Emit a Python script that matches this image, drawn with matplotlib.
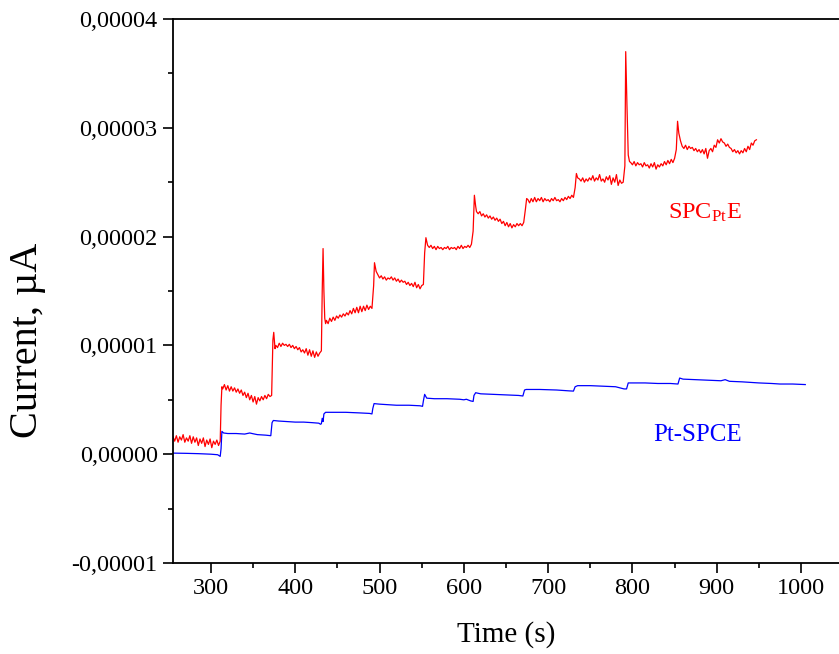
import matplotlib
matplotlib.use("Agg")
import matplotlib.pyplot as plt
from matplotlib.ticker import MultipleLocator, FuncFormatter
import numpy as np

plt.rcParams['font.family'] = ['Liberation Serif', 'DejaVu Serif']
plt.rcParams['mathtext.fontset'] = 'custom'
plt.rcParams['mathtext.rm'] = 'Liberation Serif'
plt.rcParams['mathtext.it'] = 'Liberation Serif:italic'

SCALE = 1e-6  # values below are in units of 1e-6

# ---- SPC_Pt E (red) : time (s) and current (x1e-6) ----
red_t0 = [255, 257, 259, 261, 263, 265, 267, 269, 271, 273, 275, 277, 279, 281, 283,
          285, 287, 289, 291, 293, 295, 297, 299, 301, 303, 305, 307, 309, 311]
red_v0 = [1.6, 1.2, 1.7, 1.1, 1.6, 1.3, 1.8, 1.1, 1.5, 1.2, 1.7, 1.0, 1.6, 1.1, 1.5,
          0.8, 1.4, 1.0, 1.5, 0.7, 1.3, 0.9, 1.4, 0.6, 1.2, 0.9, 1.3, 0.8, 1.2]
red_t1 = [312, 313, 314, 316, 318, 320, 322, 324, 326, 328, 330, 332, 334, 336, 338,
          340, 342, 344, 346, 348, 350, 352, 354, 356, 358, 360, 362, 364, 366, 368, 370]
red_v1 = [4.5, 6.2, 6.0, 6.4, 5.9, 6.3, 5.8, 6.2, 5.8, 6.1, 5.7, 6.0, 5.6, 5.9, 5.4,
          5.7, 5.2, 5.6, 5.0, 5.4, 4.8, 5.3, 4.6, 5.2, 4.9, 5.3, 5.0, 5.4, 5.1, 5.5, 5.3]
red_t2 = [372, 373.5, 374.5, 376, 377, 379, 381, 383, 385, 387, 389, 391, 393, 395, 397,
          399, 401, 403, 405, 407, 409, 411, 413, 415, 417, 419, 421, 423, 425, 427, 429]
red_v2 = [5.4, 10.5, 11.2, 9.7, 10.0, 9.8, 10.2, 9.9, 10.2, 10.0, 10.1, 9.9, 10.1, 9.8, 10.0,
          9.7, 9.9, 9.6, 9.8, 9.4, 9.6, 9.3, 9.7, 9.1, 9.6, 9.0, 9.5, 8.9, 9.4, 9.0, 9.3]
red_t3 = [431, 432, 433, 434, 435, 436, 437, 439, 441, 443, 445, 447, 449, 451, 453, 455,
          457, 459, 461, 463, 465, 467, 469, 471, 473, 475, 477, 479, 481, 483, 485, 487,
          489, 491]
red_v3 = [9.5, 15.0, 18.9, 15.0, 12.5, 12.0, 12.3, 12.0, 12.5, 12.2, 12.6, 12.3, 12.7, 12.5,
          12.8, 12.6, 12.9, 12.7, 13.0, 12.8, 13.2, 12.9, 13.4, 13.0, 13.5, 13.0, 13.6, 13.1,
          13.6, 13.2, 13.7, 13.3, 13.6, 13.4]
red_t4 = [493, 494, 496, 498, 500, 502, 504, 506, 508, 510, 512, 514, 516, 518, 520, 522,
          524, 526, 528, 530, 532, 534, 536, 538, 540, 542, 544, 546, 548, 550]
red_v4 = [15.5, 17.6, 16.8, 16.5, 16.2, 16.4, 16.1, 16.3, 16.0, 16.2, 16.1, 16.3, 16.0, 16.2,
          15.9, 16.1, 15.8, 16.0, 15.8, 15.9, 15.6, 15.8, 15.5, 15.7, 15.4, 15.8, 15.3, 15.6,
          15.2, 15.5]
red_t5 = [552, 553.5, 555, 557, 559, 561, 563, 565, 567, 569, 571, 573, 575, 577, 579, 581,
          583, 585, 587, 589, 591, 593, 595, 597, 599, 601, 603, 605, 607, 609]
red_v5 = [15.6, 18.5, 19.9, 19.2, 19.0, 19.2, 18.9, 19.1, 18.8, 19.1, 18.9, 19.0, 18.8, 19.0,
          18.9, 19.1, 18.8, 19.0, 18.9, 19.0, 18.8, 19.1, 18.9, 19.2, 18.9, 19.1, 19.0, 19.2,
          19.0, 19.3]
red_t6 = [611, 612.5, 614, 615, 617, 619, 621, 623, 625, 627, 629, 631, 633, 635, 637, 639,
          641, 643, 645, 647, 649, 651, 653, 655, 657, 659, 661, 663, 665, 667, 669, 671]
red_v6 = [20.5, 23.8, 22.8, 22.3, 22.1, 22.3, 21.9, 22.1, 21.8, 22.0, 21.7, 21.9, 21.6, 21.8,
          21.5, 21.7, 21.4, 21.6, 21.2, 21.4, 21.0, 21.3, 20.9, 21.2, 20.8, 21.1, 20.9, 21.2,
          21.0, 21.2, 21.0, 21.3]
red_t7 = [673, 674.5, 676, 678, 680, 682, 684, 686, 688, 690, 692, 694, 696, 698, 700, 702,
          704, 706, 708, 710, 712, 714, 716, 718, 720, 722, 724, 726, 728, 730]
red_v7 = [22.5, 23.5, 23.4, 23.1, 23.5, 23.2, 23.6, 23.2, 23.5, 23.3, 23.6, 23.2, 23.5, 23.3,
          23.4, 23.2, 23.5, 23.3, 23.6, 23.3, 23.4, 23.2, 23.5, 23.3, 23.6, 23.4, 23.7, 23.5,
          23.8, 23.6]
red_t8 = [732, 733.5, 735, 737, 739, 741, 743, 745, 747, 749, 751, 753, 755, 757, 759, 761,
          763, 765, 767, 769, 771, 773, 775, 777, 779, 781, 783, 785, 787, 789]
red_v8 = [24.5, 25.8, 25.4, 25.3, 25.1, 25.4, 25.0, 25.3, 25.1, 25.4, 25.2, 25.6, 25.1, 25.4,
          25.2, 25.7, 25.1, 25.3, 25.0, 25.5, 25.2, 25.6, 24.8, 25.4, 25.0, 25.7, 24.7, 25.2,
          24.9, 25.0]
red_t9 = [791, 792, 793.5, 795, 796.5, 798, 800, 802, 804, 806, 808, 810, 812, 814, 816,
          818, 820, 822, 824, 826, 828, 830, 832, 834, 836, 838, 840, 842, 844, 846, 848, 850]
red_v9 = [26.5, 37.0, 32.0, 27.5, 26.9, 26.8, 26.6, 26.9, 26.5, 26.8, 26.6, 26.7, 26.4, 26.8,
          26.5, 26.6, 26.3, 26.7, 26.4, 26.8, 26.2, 26.6, 26.4, 26.7, 26.5, 26.9, 26.6, 27.0,
          26.7, 27.1, 26.8, 27.2]
red_t10 = [852, 853.5, 855, 857, 859, 861, 863, 865, 867, 869, 871, 873, 875, 877, 879, 881,
           883, 885, 887, 889, 891, 893, 895, 897, 899, 901, 903, 905, 907, 909, 911, 913,
           915, 917, 919, 921, 923, 925, 927, 929, 931, 933, 935, 937, 939, 941, 943, 945, 947]
red_v10 = [28.0, 30.6, 29.5, 28.8, 28.3, 28.1, 28.4, 28.0, 28.3, 28.1, 28.2, 27.9, 28.1, 27.8,
           28.0, 27.7, 28.0, 27.6, 28.1, 27.2, 27.9, 28.1, 27.8, 28.4, 28.2, 28.9, 28.6, 29.0,
           28.7, 28.6, 28.3, 28.5, 28.2, 28.1, 27.8, 28.0, 27.7, 27.9, 27.6, 27.9, 27.7, 28.1,
           27.8, 28.3, 28.0, 28.6, 28.4, 28.8, 28.9]

# ---- Pt-SPCE (blue) : time (s) and current (x1e-6) ----
blue_t = [255, 270, 285, 300, 308, 311, 312, 313, 315, 320, 330, 340, 346, 350, 355, 365, 371,
          372.5, 374, 380, 390, 400, 410, 420, 428, 430, 431, 432, 433, 434, 436, 445, 460,
          475, 488, 491, 492, 493.5, 500, 510, 520, 535, 548, 551, 552, 553.5, 556, 565, 580,
          595, 600, 603, 608, 611, 612, 614, 620, 635, 650, 665, 670, 672, 674, 690, 710,
          725, 730, 732, 735, 750, 765, 780, 790, 793, 795, 800, 815, 830, 845, 854, 856,
          860, 875, 890, 905, 910, 915, 930, 950, 965, 975, 990, 1005]
blue_v = [0.10, 0.08, 0.05, 0.0, -0.05, -0.2, 0.5, 2.1, 1.95, 1.9, 1.9, 1.85, 1.95, 1.88, 1.8,
          1.75, 1.7, 2.9, 3.1, 3.05, 3.0, 2.95, 2.95, 2.9, 2.85, 2.75, 2.8, 3.3, 3.0, 3.7, 3.85,
          3.85, 3.85, 3.8, 3.75, 3.7, 4.2, 4.65, 4.6, 4.55, 4.5, 4.5, 4.45, 4.4, 4.9, 5.5,
          5.15, 5.1, 5.1, 5.05, 5.0, 5.05, 4.9, 4.85, 5.4, 5.65, 5.55, 5.5, 5.45, 5.4, 5.35,
          5.9, 5.95, 5.95, 5.9, 5.82, 5.8, 6.2, 6.3, 6.3, 6.25, 6.2, 6.0, 6.0, 6.55, 6.55,
          6.55, 6.5, 6.5, 6.45, 7.0, 6.9, 6.85, 6.8, 6.75, 6.85, 6.7, 6.65, 6.55, 6.5, 6.45,
          6.45, 6.4]

red_t = (red_t0 + red_t1 + red_t2 + red_t3 + red_t4 + red_t5 + red_t6 + red_t7 + red_t8
         + red_t9 + red_t10)
red_v = (red_v0 + red_v1 + red_v2 + red_v3 + red_v4 + red_v5 + red_v6 + red_v7 + red_v8
         + red_v9 + red_v10)

x_ticks = [300, 400, 500, 600, 700, 800, 900, 1000]
y_ticks = [-0.00001, 0.0, 0.00001, 0.00002, 0.00003, 0.00004]

W, H = 839, 654
fig = plt.figure(figsize=(W / 100, H / 100), dpi=100)
ax = fig.add_axes([173 / W, (H - 563) / H, (W - 173) / W, (563 - 19) / H])

ax.plot(red_t, np.array(red_v) * SCALE, color='#ff0000', lw=0.9)
ax.plot(blue_t, np.array(blue_v) * SCALE, color='#0000ff', lw=0.9)

ax.set_xlim(255, 1045)
ax.set_ylim(-0.00001, 0.00004)
ax.set_xticks(x_ticks)
ax.set_yticks(y_ticks)
ax.xaxis.set_minor_locator(MultipleLocator(50))
ax.yaxis.set_minor_locator(MultipleLocator(0.000005))
ax.yaxis.set_major_formatter(FuncFormatter(lambda v, p: f"{v:.5f}".replace('.', ',')))

ax.spines['right'].set_visible(False)
for s in ['left', 'bottom', 'top']:
    ax.spines[s].set_linewidth(1.3)
ax.tick_params(which='major', direction='out', length=7, width=1.2, labelsize=17.5, pad=4)
ax.tick_params(which='minor', direction='out', length=3.8, width=1.2)
ax.tick_params(top=False, right=False, which='both')

ax.set_xlabel('Time (s)', fontsize=21, labelpad=16)
ax.set_ylabel('Current, µA', fontsize=29)
ax.yaxis.set_label_coords(-0.19, 0.41)

ax.text(842, 0.0000216, r'SPC$_{\mathrm{Pt}}$E', color='#ff0000', fontsize=17.5,
        ha='left', va='baseline')
ax.text(825, 0.0000012, 'Pt-SPCE', color='#0000ff', fontsize=18,
        ha='left', va='baseline')

fig.savefig('out.png', dpi=100)
